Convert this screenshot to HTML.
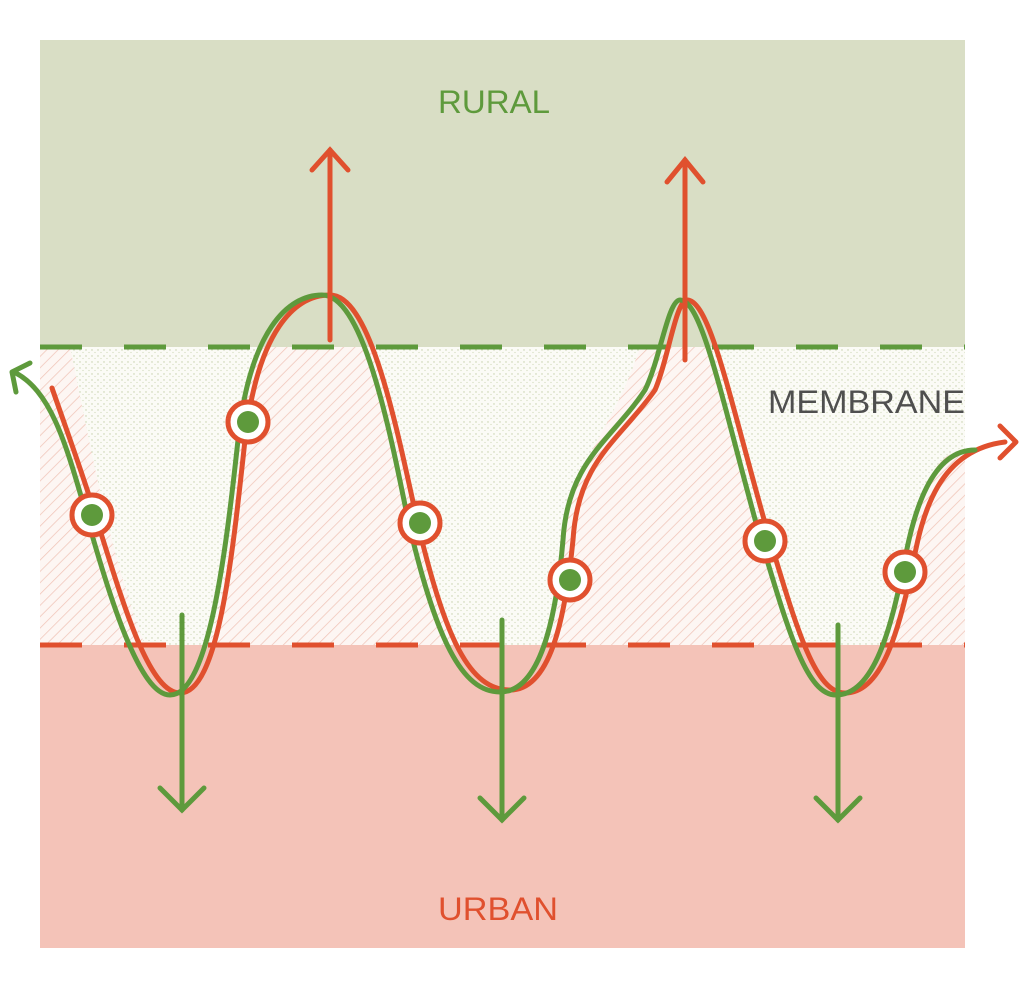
<!DOCTYPE html>
<html><head><style>
html,body{margin:0;padding:0;background:#fff;width:1024px;height:1004px;overflow:hidden}
svg{display:block}
text{font-family:"Liberation Sans",sans-serif}
</style></head><body>
<svg width="1024" height="1004" viewBox="0 0 1024 1004">
<defs>
<pattern id="hatch" width="8" height="8" patternUnits="userSpaceOnUse" patternTransform="rotate(45)">
<rect width="8" height="8" fill="#fdf6f3"/>
<line x1="0" y1="0" x2="0" y2="8" stroke="#f0c4b8" stroke-width="1.5"/>
</pattern>
<pattern id="dots" width="6" height="6" patternUnits="userSpaceOnUse">
<rect width="6" height="6" fill="#fbfbf6"/>
<circle cx="2" cy="2" r="0.7" fill="#c3cfa8"/>
<circle cx="5" cy="4.5" r="0.6" fill="#d0d9b8"/>
</pattern>
<clipPath id="mem"><rect x="40" y="347" width="925" height="298"/></clipPath>
</defs>
<rect x="40" y="40" width="925" height="307" fill="#d9dec5"/>
<rect x="40" y="347" width="925" height="298" fill="url(#hatch)"/>
<rect x="40" y="645" width="925" height="303" fill="#f4c3b8"/>
<g clip-path="url(#mem)">
<path d="M70,347 C85,420 100,500 120,570 C140,640 160,690 178,690 C210,690 232,560 240,440 C245,400 250,370 262,347Z" fill="url(#dots)"/>
<path d="M375,347 C395,420 405,480 420,540 C445,640 470,690 505,690 C545,690 560,620 565,540 C570,460 610,440 640,347Z" fill="url(#dots)"/>
<path d="M712,347 C730,420 745,480 760,540 C785,640 810,693 840,693 C880,693 895,620 905,570 C915,510 930,450 965,450 L965,347Z" fill="url(#dots)"/>
</g>
<line x1="40" y1="347" x2="965" y2="347" stroke="#5e9a3c" stroke-width="5" stroke-dasharray="42,42"/>
<line x1="40" y1="645" x2="965" y2="645" stroke="#e0502e" stroke-width="5" stroke-dasharray="42,42"/>
<g fill="none" stroke-width="5" stroke-linecap="round" stroke-linejoin="round">
<path d="M52,388 C70,440 85,480 100,530 C125,610 150,693 180,693 C218,693 232,560 245,440 C258,330 295,295 330,295 C370,295 395,420 417,520 C445,640 470,690 510,690 C550,690 565,620 573,540 C578,460 620,440 655,390 C668,360 676,300 687,300 C710,300 730,400 767,530 C797,630 815,693 845,693 C885,693 900,620 912,570 C922,510 940,450 1005,442" stroke="#e0502e"/>
<path d="M1000,426 L1016,442 L1000,458" stroke="#e0502e"/>
<path d="M14,372 C50,390 65,440 85,510 C110,600 140,695 170,695 C208,695 225,560 238,440 C250,330 288,295 322,295 C362,295 388,420 408,520 C436,640 462,692 500,692 C540,692 556,620 563,540 C568,460 612,440 645,390 C660,360 668,300 680,300 C702,300 722,400 758,530 C788,630 806,695 836,695 C876,695 892,620 903,570 C913,510 932,450 975,450" stroke="#5e9a3c"/>
<path d="M30,363 L12,372 L16,392" stroke="#5e9a3c"/>
</g>
<g stroke-width="5" fill="none" stroke-linecap="round">
<path d="M330,150 L330,340" stroke="#e0502e"/><path d="M312,170 L330,150 L348,170" stroke="#e0502e"/>
<path d="M685,160 L685,360" stroke="#e0502e"/><path d="M667,182 L685,160 L703,182" stroke="#e0502e"/>
<path d="M182,615 L182,810" stroke="#5e9a3c"/><path d="M160,788 L182,810 L204,788" stroke="#5e9a3c"/>
<path d="M502,620 L502,820" stroke="#5e9a3c"/><path d="M480,798 L502,820 L524,798" stroke="#5e9a3c"/>
<path d="M838,625 L838,820" stroke="#5e9a3c"/><path d="M816,798 L838,820 L860,798" stroke="#5e9a3c"/>
</g>
<g>
<g transform="translate(92,515)"><circle r="20" fill="#fff" stroke="#e0502e" stroke-width="5"/><circle r="11" fill="#5e9a3c"/></g>
<g transform="translate(248,422)"><circle r="20" fill="#fff" stroke="#e0502e" stroke-width="5"/><circle r="11" fill="#5e9a3c"/></g>
<g transform="translate(420,523)"><circle r="20" fill="#fff" stroke="#e0502e" stroke-width="5"/><circle r="11" fill="#5e9a3c"/></g>
<g transform="translate(570,580)"><circle r="20" fill="#fff" stroke="#e0502e" stroke-width="5"/><circle r="11" fill="#5e9a3c"/></g>
<g transform="translate(765,541)"><circle r="20" fill="#fff" stroke="#e0502e" stroke-width="5"/><circle r="11" fill="#5e9a3c"/></g>
<g transform="translate(905,572)"><circle r="20" fill="#fff" stroke="#e0502e" stroke-width="5"/><circle r="11" fill="#5e9a3c"/></g>
</g>
<text x="438" y="113" font-size="32" fill="#5e9a3c" textLength="112" lengthAdjust="spacingAndGlyphs">RURAL</text>
<text x="768" y="413" font-size="32" fill="#4f4f4f" textLength="197" lengthAdjust="spacingAndGlyphs">MEMBRANE</text>
<text x="438" y="920" font-size="32" fill="#e0502e" textLength="120" lengthAdjust="spacingAndGlyphs">URBAN</text>
</svg>
</body></html>
